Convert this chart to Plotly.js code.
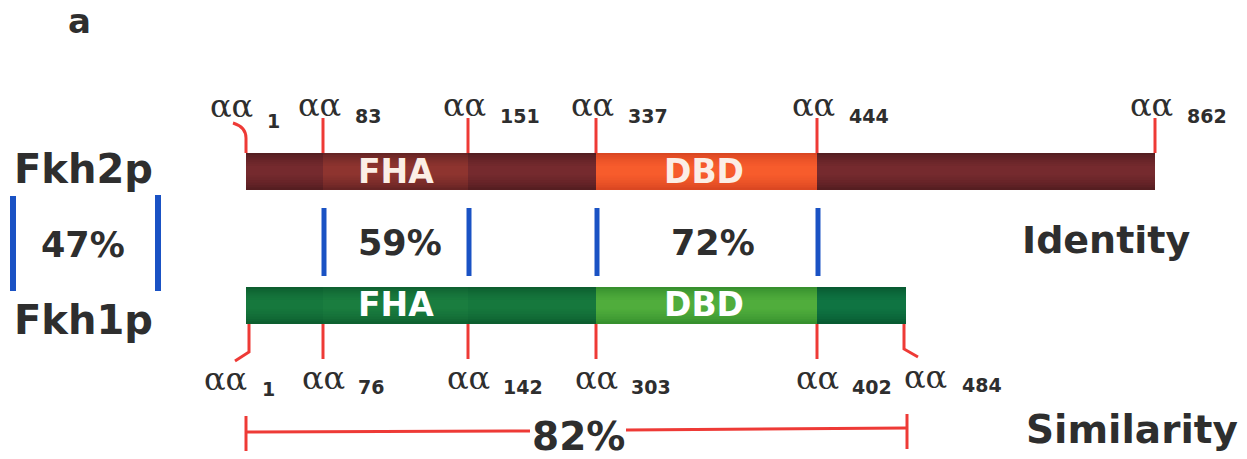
<!DOCTYPE html>
<html>
<head>
<meta charset="utf-8">
<script src="https://cdn.plot.ly/plotly-3.0.1.min.js"></script>
<style>
  html, body { margin: 0; padding: 0; background: #ffffff; }
  #chart { width: 1247px; height: 459px; }
</style>
</head>
<body>
<div id="chart"></div>
<script>
// ---------------- DATA ----------------
const panelLabel = 'a';
const proteinNames = ['Fkh2p', 'Fkh1p'];
const fkh2Residues = [1, 83, 151, 337, 444, 862];
const fkh1Residues = [1, 76, 142, 303, 402, 484];
const segmentDomains = ['', 'FHA', '', 'DBD', ''];
const identityLabels = ['47%', '59%', '72%'];
const similarityLabel = '82%';
const sideLabels = ['Identity', 'Similarity'];
const residuePrefix = 'αα';

// ---------------- LAYOUT (diagram geometry, not data) ----------------
const W = 1247, H = 459;
const fkh2Cols = [246, 323, 468, 596, 817, 1155];
const fkh1Cols = [246, 323, 468, 596, 817, 906];
const bar2 = { top: 153, bottom: 190 };
const bar1 = { top: 287, bottom: 324 };

const TXT = '#2e2e2e';
const RED = '#ee3a36';
const BLUE = '#1a52c4';
const SANS = 'DejaVu Sans, Arial, sans-serif';
const SERIF = 'DejaVu Serif, Liberation Serif, serif';

const palette2 = {
  '':    ['#421619', '#752a2e'],
  'FHA': ['#4e1b1d', '#8e342f'],
  'DBD': ['#c93a1c', '#f75c2c']
};
const palette1 = {
  '':    ['#084f27', '#16783d'],
  'FHA': ['#095229', '#1a7d3f'],
  'DBD': ['#287f26', '#50ad3c']
};
const lastPalette1 = ['#044c29', '#0f7442'];

const shapes = [];
const annotations = [];

function hex2rgb(h) { return [1, 3, 5].map(i => parseInt(h.slice(i, i + 2), 16)); }
function mix(a, b, t) {
  const A = hex2rgb(a), B = hex2rgb(b);
  return 'rgb(' + A.map((v, i) => Math.round(v + (B[i] - v) * t)).join(',') + ')';
}
function rect(x0, x1, y0, y1, color) {
  shapes.push({ type: 'rect', xref: 'x', yref: 'y', x0, x1, y0, y1,
    fillcolor: color, line: { width: 0 }, layer: 'above' });
}
function gradBar(x0, x1, y0, y1, cols) {
  const h = y1 - y0, n = 7;
  for (let k = 0; k < n; k++) {
    const f = k / n;
    const t = Math.sqrt(f + 1 / n);
    rect(x0, x1, y0 + h * 0.40 * f, y1 - h * 0.46 * f, mix(cols[0], cols[1], Math.min(1, t)));
  }
}
function seg(x0, y0, x1, y1, color, width) {
  shapes.push({ type: 'line', xref: 'x', yref: 'y', x0, y0, x1, y1,
    line: { color, width }, layer: 'above' });
}
function path(d, color, width) {
  shapes.push({ type: 'path', xref: 'x', yref: 'y', path: d,
    line: { color, width }, layer: 'above' });
}
function text(t, x, y, size, opts = {}) {
  annotations.push(Object.assign({
    text: t, x, y, xref: 'x', yref: 'y', showarrow: false,
    xanchor: 'center', yanchor: 'middle',
    font: { family: SANS, size, color: TXT, weight: 'bold' }
  }, opts));
}

// Bars
for (let i = 0; i < segmentDomains.length; i++) {
  const d = segmentDomains[i];
  gradBar(fkh2Cols[i], fkh2Cols[i + 1], bar2.top, bar2.bottom, palette2[d]);
  const p1 = (i === segmentDomains.length - 1) ? lastPalette1 : palette1[d];
  gradBar(fkh1Cols[i], fkh1Cols[i + 1], bar1.top, bar1.bottom, p1);
  if (d) {
    const cx2 = (fkh2Cols[i] + fkh2Cols[i + 1]) / 2;
    const cx1 = (fkh1Cols[i] + fkh1Cols[i + 1]) / 2;
    const off = d === 'FHA' ? 0 : -3;
    text(d, cx2 + off, (bar2.top + bar2.bottom) / 2, 33,
      { font: { family: SANS, size: 33, color: '#fbeee6', weight: 'bold' } });
    text(d, cx1 + off, (bar1.top + bar1.bottom) / 2 - 1, 33,
      { font: { family: SANS, size: 33, color: '#ffffff', weight: 'bold' } });
  }
}

const serifFont = { family: SERIF, size: 32, color: TXT };
const NUM = 19;

// Fkh2p residue markers (above bar)
fkh2Residues.forEach((r, i) => {
  const x = fkh2Cols[i];
  if (i === 0) {
    path(`M 233 123 Q 246 127 246 138 L 246 ${bar2.top}`, RED, 3);
    text(residuePrefix, x - 15, 106, 32, { font: serifFont });
    text(String(r), x + 19, 121, NUM, { xanchor: 'left' });
  } else {
    seg(x, 118, x, bar2.top, RED, 3);
    text(residuePrefix, x - 4, 105, 32, { font: serifFont });
    text(String(r), x + 30, 116, NUM, { xanchor: 'left' });
  }
});

// Fkh1p residue markers (below bar)
fkh1Residues.forEach((r, i) => {
  const x = fkh1Cols[i];
  const last = i === fkh1Residues.length - 1;
  if (i === 0) {
    path(`M ${x + 3} ${bar1.bottom} L ${x + 3} 352 L 235 361`, RED, 3);
    text(residuePrefix, x - 21, 379, 32, { font: serifFont });
    text(String(r), x + 14, 389, NUM, { xanchor: 'left' });
  } else if (last) {
    path(`M ${x - 2} ${bar1.bottom} L ${x - 2} 349 L 918 357`, RED, 3);
    text(residuePrefix, x + 19, 377, 32, { font: serifFont });
    text(String(r), x + 54, 385, NUM, { xanchor: 'left' });
  } else {
    seg(x, bar1.bottom, x, 359, RED, 3);
    text(residuePrefix, x, 378, 32, { font: serifFont });
    text(String(r), x + 33, 387, NUM, { xanchor: 'left' });
  }
});

// Identity brackets (blue)
seg(13, 196, 13, 291, BLUE, 6);
seg(158, 195, 158, 291, BLUE, 6);
[1, 2, 3, 4].forEach(i => seg(fkh2Cols[i] + 1, 208, fkh2Cols[i] + 1, 276, BLUE, 5));

// Identity labels
text(identityLabels[0], 83, 245, 35);
text(identityLabels[1], (fkh2Cols[1] + fkh2Cols[2]) / 2 + 4, 243, 35);
text(identityLabels[2], (fkh2Cols[3] + fkh2Cols[4]) / 2 + 6, 243, 35);

// Similarity bar
const sx0 = fkh1Cols[0], sx1 = fkh1Cols[5] + 1;
seg(sx0, 432, 530, 431, RED, 3);
seg(626, 430, sx1, 428, RED, 3);
seg(sx0, 416, sx0, 451, RED, 3);
seg(sx1, 414, sx1, 449, RED, 3);
text(similarityLabel, 578, 436, 39);

// Side labels
text(proteinNames[0], 83, 169, 40);
text(proteinNames[1], 83, 320, 40);
text(sideLabels[0], 1106, 240, 38);
text(sideLabels[1], 1132, 429, 39);
text(panelLabel, 79, 21, 34);

const layout = {
  width: W, height: H,
  margin: { l: 0, r: 0, t: 0, b: 0, pad: 0 },
  paper_bgcolor: '#ffffff', plot_bgcolor: '#ffffff',
  showlegend: false,
  xaxis: { range: [0, W], visible: false, fixedrange: true },
  yaxis: { range: [H, 0], visible: false, fixedrange: true },
  shapes, annotations
};

Plotly.newPlot('chart', [{ x: [], y: [], type: 'scatter', mode: 'markers', hoverinfo: 'skip' }],
  layout, { staticPlot: true, displayModeBar: false });
</script>
</body>
</html>
